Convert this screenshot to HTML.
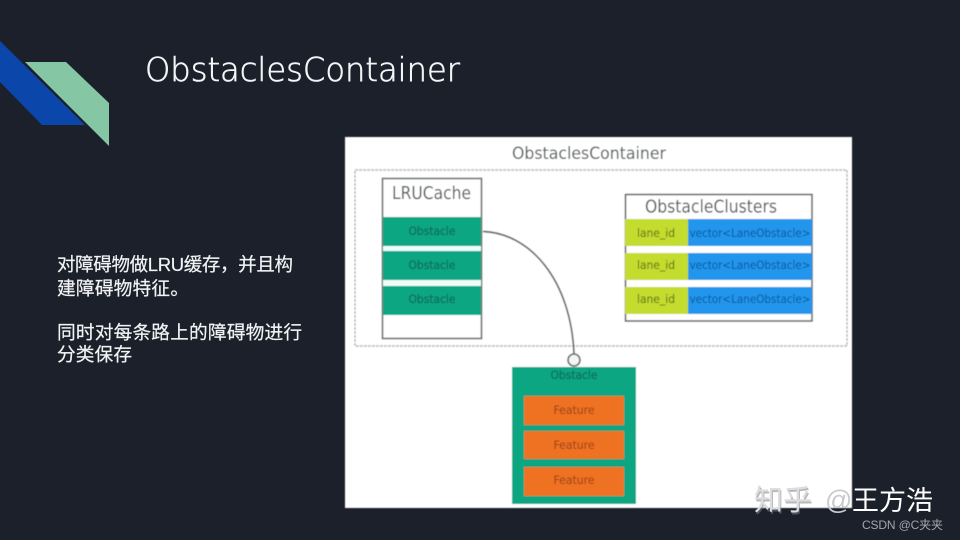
<!DOCTYPE html>
<html>
<head>
<meta charset="utf-8">
<title>ObstaclesContainer</title>
<style>
html,body{margin:0;padding:0;background:#1b202b;width:960px;height:540px;overflow:hidden}
svg{display:block;position:absolute;left:0;top:0}
.d{font-family:"DejaVu Sans","Liberation Sans",sans-serif}
.l{font-family:"Liberation Sans",sans-serif}
.c{font-family:"Liberation Sans","Noto Sans CJK SC",sans-serif}
</style>
</head>
<body>
<svg width="960" height="540" viewBox="0 0 960 540" xmlns="http://www.w3.org/2000/svg">
<defs><filter id="b" x="-5%" y="-5%" width="110%" height="110%"><feGaussianBlur stdDeviation="0.4"/></filter></defs>
<rect width="960" height="540" fill="#1b202b"/>
<polygon points="0,41 85,125 42,125 0,82" fill="#0b46ab"/>
<polygon points="25,62 66,62 109,103 109,146" fill="#85c7a5"/>
<text class="d" x="145" y="81" font-size="33" fill="#f4f5f6" stroke="#f4f5f6" stroke-width="0.6" textLength="315" lengthAdjust="spacingAndGlyphs" font-weight="200">ObstaclesContainer</text>

<text class="c" x="57" y="271" font-size="18.5" fill="#f2f3f4" stroke="#f2f3f4" stroke-width="0.2" textLength="236">对障碍物做LRU缓存，并且构</text>
<text class="c" x="57" y="295" font-size="18.7" fill="#f2f3f4" stroke="#f2f3f4" stroke-width="0.2" textLength="132">建障碍物特征。</text>
<text class="c" x="57" y="339" font-size="18.7" fill="#f2f3f4" stroke="#f2f3f4" stroke-width="0.2" textLength="245">同时对每条路上的障碍物进行</text>
<text class="c" x="57" y="361" font-size="18.7" fill="#f2f3f4" stroke="#f2f3f4" stroke-width="0.2" textLength="75">分类保存</text>

<g filter="url(#b)">
<rect x="345" y="137" width="507" height="371" fill="#ffffff"/>
<text class="d" x="512" y="159" font-size="17" fill="#4f5559" textLength="154" lengthAdjust="spacingAndGlyphs">ObstaclesContainer</text>
<rect x="355" y="170" width="492" height="176" fill="none" stroke="#b5b7b8" stroke-width="1.4" stroke-dasharray="3 1"/>

<rect x="382.5" y="178.5" width="99" height="160" fill="#fff" stroke="#6f7375" stroke-width="1.7"/>
<text class="d" x="392" y="199" font-size="18" fill="#4f5559" textLength="79" lengthAdjust="spacingAndGlyphs">LRUCache</text>
<rect x="383" y="217" width="98" height="29" fill="#10a683"/>
<rect x="383" y="251" width="98" height="29" fill="#10a683"/>
<rect x="383" y="286" width="98" height="29" fill="#10a683"/>
<rect x="383" y="246" width="98" height="5" fill="#eefdf9"/>
<rect x="383" y="280" width="98" height="6" fill="#eefdf9"/>
<g class="d" font-size="11.5" fill="#0a6b5d" stroke="#0a6b5d" stroke-width="0.2" text-anchor="middle">
<text x="432" y="235" textLength="47" lengthAdjust="spacingAndGlyphs">Obstacle</text>
<text x="432" y="269" textLength="47" lengthAdjust="spacingAndGlyphs">Obstacle</text>
<text x="432" y="303" textLength="47" lengthAdjust="spacingAndGlyphs">Obstacle</text>
</g>

<rect x="625.5" y="194.5" width="186.5" height="126.5" fill="#fff" stroke="#565b5d" stroke-width="1.5"/>
<text class="d" x="645" y="212.5" font-size="18" fill="#4f5559" textLength="132" lengthAdjust="spacingAndGlyphs">ObstacleClusters</text>
<rect x="625" y="219" width="63" height="27" fill="#c3dc2f"/>
<rect x="625" y="253" width="63" height="27" fill="#c3dc2f"/>
<rect x="625" y="287" width="63" height="27" fill="#c3dc2f"/>
<rect x="688" y="219" width="124" height="27" fill="#2196ec"/>
<rect x="688" y="253" width="124" height="27" fill="#2196ec"/>
<rect x="688" y="287" width="124" height="27" fill="#2196ec"/>
<g class="d" font-size="11.5" fill="#55681c" text-anchor="middle">
<text x="656" y="237" textLength="38" lengthAdjust="spacingAndGlyphs">lane_id</text>
<text x="656" y="269" textLength="38" lengthAdjust="spacingAndGlyphs">lane_id</text>
<text x="656" y="303" textLength="38" lengthAdjust="spacingAndGlyphs">lane_id</text>
</g>
<g class="d" font-size="11.5" fill="#0d559c">
<text x="689.5" y="237" textLength="121" lengthAdjust="spacingAndGlyphs">vector&lt;LaneObstacle&gt;</text>
<text x="689.5" y="269" textLength="121" lengthAdjust="spacingAndGlyphs">vector&lt;LaneObstacle&gt;</text>
<text x="689.5" y="303" textLength="121" lengthAdjust="spacingAndGlyphs">vector&lt;LaneObstacle&gt;</text>
</g>

<path d="M483,231.5 C530,233 571,280 574,354" fill="none" stroke="#626567" stroke-width="1.7"/>
<circle cx="574" cy="360" r="6" fill="#f4f5f7" stroke="#626567" stroke-width="1.6"/>

<rect x="512" y="367" width="124" height="137" fill="#10a683"/>
<text class="d" x="574" y="379" font-size="11.5" fill="#0a6b5d" stroke="#0a6b5d" stroke-width="0.2" text-anchor="middle" textLength="47" lengthAdjust="spacingAndGlyphs">Obstacle</text>
<rect x="524" y="396" width="100" height="29" fill="#ef7120"/>
<rect x="524" y="431" width="100" height="28" fill="#ef7120"/>
<rect x="524" y="467" width="100" height="29" fill="#ef7120"/>
<g class="d" font-size="11.5" fill="#97411a" text-anchor="middle">
<text x="574" y="414" textLength="41" lengthAdjust="spacingAndGlyphs">Feature</text>
<text x="574" y="449" textLength="41" lengthAdjust="spacingAndGlyphs">Feature</text>
<text x="574" y="484" textLength="41" lengthAdjust="spacingAndGlyphs">Feature</text>
</g>
</g>

<text class="c" x="754" y="511" font-size="29" fill="#7d8086" opacity="0.55" dx="1" dy="1">知乎</text>
<text class="c" x="754" y="510" font-size="29" fill="#dcdddf">知乎</text>
<text class="c" x="825" y="509" font-size="27" fill="#c9cacc">@</text>
<text class="c" x="852" y="510" font-size="27" fill="#ffffff" textLength="81">王方浩</text>
<text class="c" x="862" y="529" font-size="12" fill="#a3a6ab" textLength="81">CSDN @C夹夹</text>
</svg>
</body>
</html>
